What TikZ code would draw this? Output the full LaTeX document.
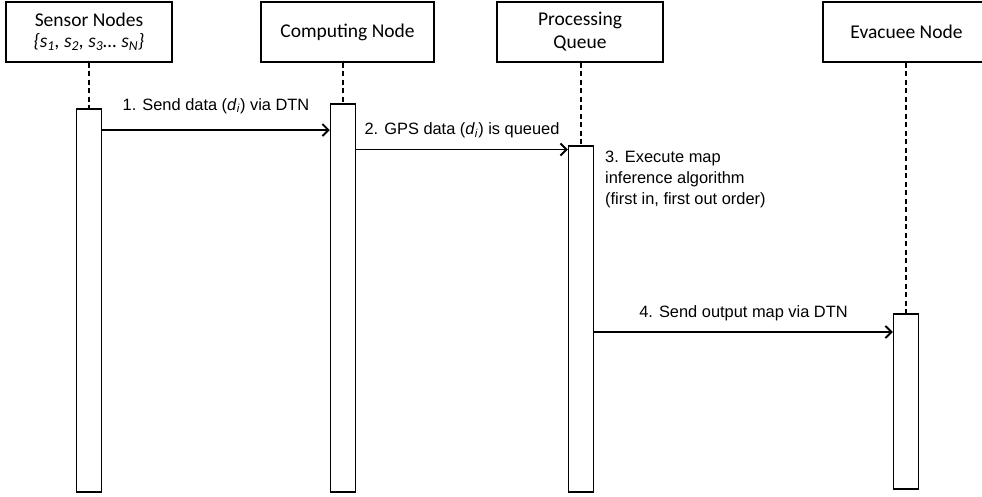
\documentclass[tikz,border=0pt]{standalone}
\usepackage{fontspec}
\setmainfont{Liberation Sans}
\newfontfamily\headfont{Carlito}
\usetikzlibrary{arrows.meta}

\begin{document}
\begin{tikzpicture}[x=1pt,y=-1pt,
  head/.style={draw, line width=1.5pt, minimum width=166pt, minimum height=60pt,
    inner sep=0pt, align=center, font=\headfont\fontsize{19.5}{23}\selectfont},
  act/.style={draw, line width=1.5pt, fill=white, minimum width=25pt, inner sep=0pt, anchor=north},
  life/.style={line width=1.5pt, dash pattern=on 5pt off 3.5pt},
  msg/.style={line width=1.4pt, -{Straight Barb[length=6pt,width=12pt,line width=1.9pt]}},
  lbl/.style={font=\fontsize{16.4}{21}\selectfont, inner sep=0pt}]
\useasboundingbox (0,0) rectangle (982,496);

% participants
\node[head] (h1) at (89,32) {Sensor Nodes\\[-2pt]{\itshape \{s\textsubscript{\itshape 1}, s\textsubscript{\itshape 2}, s\textsubscript{\itshape 3}\ldots\ s\textsubscript{\itshape N}\}}};
\node[head, minimum width=173pt] (h2) at (347.5,32) {Computing Node};
\node[head] (h3) at (580,32) {Processing\\Queue};
\node[head, minimum width=167pt] (h4) at (906.5,32) {Evacuee Node};

% activation bars
\node[act, minimum height=383pt] (a1) at (89,108) {};
\node[act, minimum height=388pt] (a2) at (343,103) {};
\node[act, minimum height=346pt] (a3) at (581,145) {};
\node[act, minimum height=175pt] (a4) at (906,313) {};

% lifelines
\draw[life] (h1.south -| a1.north) -- (a1.north);
\draw[life] (h2.south -| a2.north) -- (a2.north);
\draw[life] (h3.south -| a3.north) -- (a3.north);
\draw[life] (h4.south -| a4.north) -- (a4.north);

% message levels
\coordinate (m1) at (0,130);
\coordinate (m2) at (0,149.5);
\coordinate (m4) at (0,332);

\draw[msg] (a1.east |- m1) -- node[lbl, above=24pt, anchor=center] {1. Send data (\textit{d}\textsubscript{\textit{i}}) via DTN} (a2.west |- m1);
\draw[msg] (a2.east |- m2) -- node[lbl, above=19pt, anchor=center] {2. GPS data (\textit{d}\textsubscript{\textit{i}}) is queued} (a3.west |- m2);
\draw[msg] (a3.east |- m4) -- node[lbl, above=19pt, anchor=center] {4. Send output map via DTN} (a4.west |- m4);

\node[lbl, align=left, anchor=north west] (t3) at (605,151) {3. Execute map\\inference algorithm\\(first in, first out order)};
\end{tikzpicture}
\end{document}
